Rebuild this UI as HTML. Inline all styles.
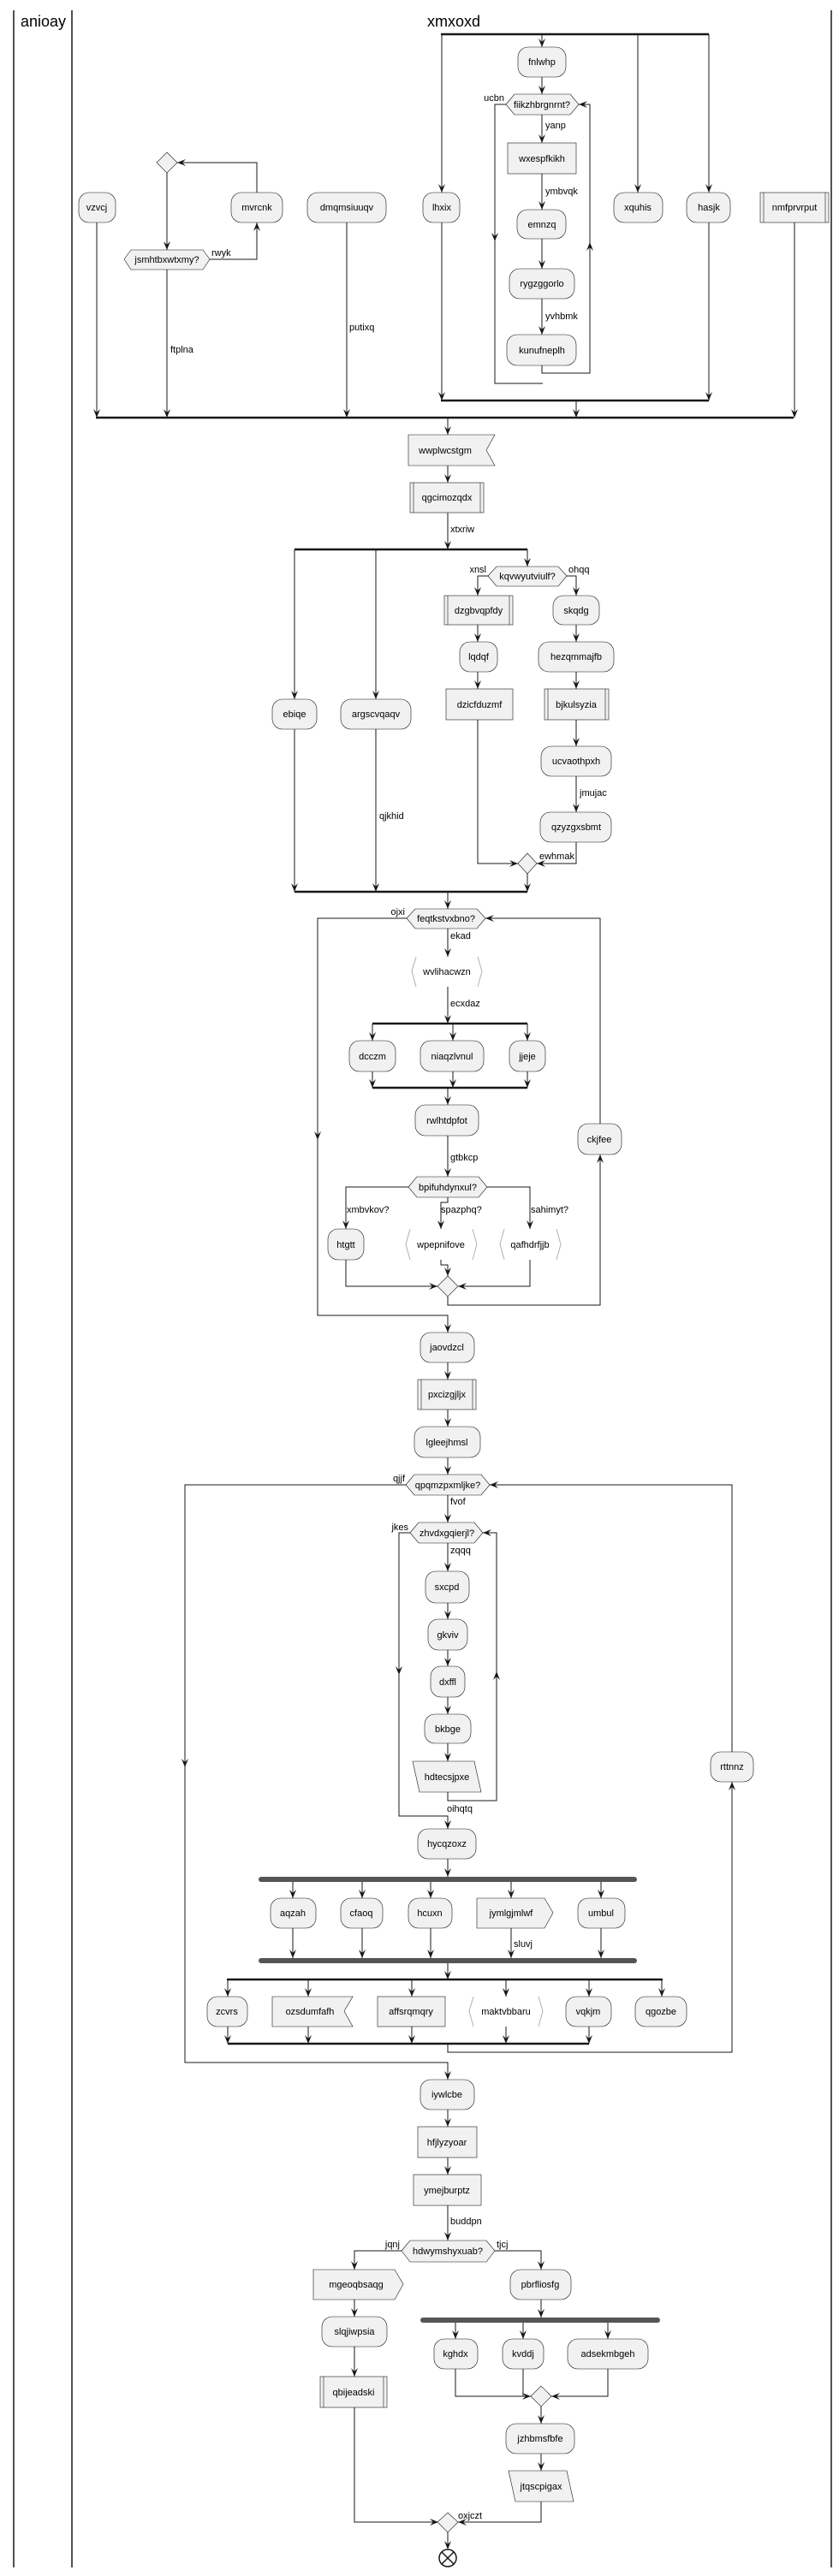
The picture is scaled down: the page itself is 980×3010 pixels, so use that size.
<!DOCTYPE html>
<html><head><meta charset="utf-8"><style>
html,body{margin:0;padding:0;background:#fff;}
svg{display:block;}
text{font-family:"Liberation Sans",sans-serif;font-size:11px;fill:#000;}
.n{text-anchor:middle;}
.e{text-anchor:end;}
.b{fill:#F1F1F1;stroke:#181818;stroke-width:0.6;}
.k{fill:none;stroke:#B0B0B0;stroke-width:1;}
.l{fill:none;stroke:#181818;stroke-width:1;}
.bar{stroke:#181818;stroke-width:2.5;}
</style></head><body>
<svg width="980" height="3010" viewBox="0 0 980 3010" xmlns="http://www.w3.org/2000/svg">
<defs>
<marker id="a" viewBox="0 0 10 10" refX="10" refY="5" markerWidth="10" markerHeight="10" markerUnits="userSpaceOnUse" orient="auto"><path d="M0,1 L10,5 L0,9 L4,5 Z" fill="#181818"/></marker>
</defs>
<!-- lanes -->
<line x1="16" y1="12" x2="16" y2="3000" stroke="#181818" stroke-width="1.5"/>
<line x1="84" y1="12" x2="84" y2="3000" stroke="#181818" stroke-width="1.5"/>
<line x1="971" y1="12" x2="971" y2="3000" stroke="#181818" stroke-width="1.5"/>
<text x="24" y="31" style="font-size:18px">anioay</text>
<text x="530" y="31" class="n" style="font-size:18px">xmxoxd</text>

<!-- top fork -->
<line x1="515" y1="40" x2="828" y2="40" class="bar"/>
<path class="l" d="M633,40 V55" marker-end="url(#a)"/>
<path class="l" d="M516,40 V225" marker-end="url(#a)"/>
<path class="l" d="M745,40 V225" marker-end="url(#a)"/>
<path class="l" d="M828,40 V225" marker-end="url(#a)"/>
<rect class="b" x="605" y="55" width="56" height="35" rx="12"/><text x="633" y="76" class="n">fnlwhp</text>
<path class="l" d="M633,90 V110" marker-end="url(#a)"/>
<polygon class="b" points="591,122 601,110 666,110 676,122 666,134 601,134"/><text x="633" y="126" class="n">fiikzhbrgnrnt?</text>
<text x="589" y="118" class="e">ucbn</text>
<path class="l" d="M633,134 V167" marker-end="url(#a)"/><text x="637" y="150">yanp</text>
<rect class="b" x="593" y="167" width="80" height="36"/><text x="633" y="189" class="n">wxespfkikh</text>
<path class="l" d="M633,203 V245" marker-end="url(#a)"/><text x="637" y="227">ymbvqk</text>
<rect class="b" x="604" y="245" width="57" height="34" rx="12"/><text x="633" y="266" class="n">emnzq</text>
<path class="l" d="M633,279 V314" marker-end="url(#a)"/>
<rect class="b" x="595" y="314" width="76" height="35" rx="12"/><text x="633" y="335" class="n">rygzggorlo</text>
<path class="l" d="M633,349 V391" marker-end="url(#a)"/><text x="637" y="373">yvhbmk</text>
<rect class="b" x="592" y="391" width="81" height="36" rx="12"/><text x="633" y="413" class="n">kunufneplh</text>
<path class="l" d="M633,427 V436 H689 V122 H676" marker-end="url(#a)"/>
<path class="l" d="M689,295 V283" marker-end="url(#a)"/>
<path class="l" d="M591,122 H578 V448 H634"/>
<path class="l" d="M578,270 V282" marker-end="url(#a)"/>

<!-- left parts -->
<polygon class="b" points="195,178 207,190 195,202 183,190"/>
<path class="l" d="M300,225 V190 H207" marker-end="url(#a)"/>
<path class="l" d="M195,202 V292" marker-end="url(#a)"/>
<polygon class="b" points="145,303 153,292 237,292 245,303 237,315 153,315"/><text x="195" y="307" class="n">jsmhtbxwtxmy?</text>
<text x="247" y="299">rwyk</text>
<path class="l" d="M245,303 H300 V260" marker-end="url(#a)"/>

<rect class="b" x="92" y="225" width="43" height="35" rx="12"/><text x="113" y="246" class="n">vzvcj</text>
<rect class="b" x="270" y="225" width="60" height="35" rx="12"/><text x="300" y="246" class="n">mvrcnk</text>
<rect class="b" x="359" y="225" width="92" height="35" rx="12"/><text x="405" y="246" class="n">dmqmsiuuqv</text>
<rect class="b" x="494" y="225" width="43" height="35" rx="12"/><text x="516" y="246" class="n">lhxix</text>
<rect class="b" x="717" y="225" width="57" height="35" rx="12"/><text x="745" y="246" class="n">xquhis</text>
<rect class="b" x="802" y="225" width="51" height="35" rx="12"/><text x="828" y="246" class="n">hasjk</text>
<rect class="b" x="888" y="225" width="80" height="35"/><line x1="892" y1="225" x2="892" y2="260" stroke="#181818" stroke-width="0.6"/><line x1="964" y1="225" x2="964" y2="260" stroke="#181818" stroke-width="0.6"/><text x="928" y="246" class="n">nmfprvrput</text>

<line x1="515" y1="468" x2="828" y2="468" class="bar"/>
<path class="l" d="M516,260 V468" marker-end="url(#a)"/>
<path class="l" d="M828,260 V468" marker-end="url(#a)"/>
<path class="l" d="M673,468 V488" marker-end="url(#a)"/>
<line x1="112" y1="488" x2="927" y2="488" class="bar"/>
<path class="l" d="M113,260 V488" marker-end="url(#a)"/>
<path class="l" d="M195,315 V488" marker-end="url(#a)"/><text x="199" y="412">ftplna</text>
<path class="l" d="M405,260 V488" marker-end="url(#a)"/><text x="408" y="386">putixq</text>
<path class="l" d="M928,260 V488" marker-end="url(#a)"/>
<path class="l" d="M523,488 V508" marker-end="url(#a)"/>

<!-- section 2 -->
<polygon class="b" points="477,508 578,508 568,526 578,544 477,544"/><text x="520" y="530" class="n">wwplwcstgm</text>
<path class="l" d="M523,544 V564" marker-end="url(#a)"/>
<rect class="b" x="479" y="564" width="86" height="35"/><line x1="483" y1="564" x2="483" y2="599" stroke="#181818" stroke-width="0.6"/><line x1="561" y1="564" x2="561" y2="599" stroke="#181818" stroke-width="0.6"/><text x="522" y="585" class="n">qgcimozqdx</text>
<path class="l" d="M523,599 V642" marker-end="url(#a)"/><text x="526" y="622">xtxriw</text>
<line x1="344" y1="642" x2="616" y2="642" class="bar"/>
<path class="l" d="M344,642 V817" marker-end="url(#a)"/>
<path class="l" d="M439,642 V817" marker-end="url(#a)"/>
<path class="l" d="M616,642 V662" marker-end="url(#a)"/>
<polygon class="b" points="570,673 580,662 652,662 662,673 652,685 580,685"/><text x="616" y="677" class="n">kqvwyutviulf?</text>
<text x="568" y="669" class="e">xnsl</text><text x="664" y="669">ohqq</text>
<path class="l" d="M570,673 H558 V696" marker-end="url(#a)"/>
<path class="l" d="M662,673 H673 V696" marker-end="url(#a)"/>
<rect class="b" x="519" y="696" width="80" height="34"/><line x1="523" y1="696" x2="523" y2="730" stroke="#181818" stroke-width="0.6"/><line x1="595" y1="696" x2="595" y2="730" stroke="#181818" stroke-width="0.6"/><text x="559" y="717" class="n">dzgbvqpfdy</text>
<path class="l" d="M558,730 V750" marker-end="url(#a)"/>
<rect class="b" x="537" y="750" width="44" height="35" rx="12"/><text x="559" y="771" class="n">lqdqf</text>
<path class="l" d="M558,785 V805" marker-end="url(#a)"/>
<rect class="b" x="521" y="805" width="78" height="36"/><text x="560" y="827" class="n">dzicfduzmf</text>
<rect class="b" x="646" y="696" width="54" height="34" rx="12"/><text x="673" y="717" class="n">skqdg</text>
<path class="l" d="M673,730 V750" marker-end="url(#a)"/>
<rect class="b" x="629" y="750" width="88" height="35" rx="12"/><text x="673" y="771" class="n">hezqmmajfb</text>
<path class="l" d="M673,785 V805" marker-end="url(#a)"/>
<rect class="b" x="636" y="805" width="75" height="36"/><line x1="640" y1="805" x2="640" y2="841" stroke="#181818" stroke-width="0.6"/><line x1="707" y1="805" x2="707" y2="841" stroke="#181818" stroke-width="0.6"/><text x="673" y="827" class="n">bjkulsyzia</text>
<path class="l" d="M673,841 V872" marker-end="url(#a)"/>
<rect class="b" x="632" y="872" width="82" height="35" rx="12"/><text x="673" y="893" class="n">ucvaothpxh</text>
<path class="l" d="M673,907 V949" marker-end="url(#a)"/><text x="677" y="930">jmujac</text>
<rect class="b" x="631" y="949" width="83" height="35" rx="12"/><text x="673" y="970" class="n">qzyzgxsbmt</text>
<rect class="b" x="318" y="817" width="52" height="35" rx="12"/><text x="344" y="838" class="n">ebiqe</text>
<rect class="b" x="398" y="817" width="82" height="35" rx="12"/><text x="439" y="838" class="n">argscvqaqv</text>
<text x="443" y="957">qjkhid</text>
<polygon class="b" points="616,997 627,1009 616,1021 605,1009"/>
<path class="l" d="M558,841 V1009 H605" marker-end="url(#a)"/>
<path class="l" d="M673,984 V1009 H627" marker-end="url(#a)"/><text x="630" y="1004">ewhmak</text>
<path class="l" d="M616,1021 V1042" marker-end="url(#a)"/>
<path class="l" d="M344,852 V1042" marker-end="url(#a)"/>
<path class="l" d="M439,852 V1042" marker-end="url(#a)"/>
<line x1="344" y1="1042" x2="616" y2="1042" class="bar"/>
<path class="l" d="M523,1042 V1062" marker-end="url(#a)"/>

<!-- loop feqtk -->
<polygon class="b" points="475,1073 485,1062 557,1062 567,1073 557,1085 485,1085"/><text x="521" y="1077" class="n">feqtkstvxbno?</text>
<text x="473" y="1069" class="e">ojxi</text>
<path class="l" d="M523,1085 V1118" marker-end="url(#a)"/><text x="526" y="1097">ekad</text>
<path class="k" d="M486,1118 L481,1135 L486,1153 M558,1118 L563,1135 L558,1153"/><text x="522" y="1139" class="n">wvlihacwzn</text>
<path class="l" d="M523,1153 V1196" marker-end="url(#a)"/><text x="526" y="1176">ecxdaz</text>
<line x1="435" y1="1196" x2="616" y2="1196" class="bar"/>
<path class="l" d="M435,1196 V1216" marker-end="url(#a)"/>
<path class="l" d="M529,1196 V1216" marker-end="url(#a)"/>
<path class="l" d="M616,1196 V1216" marker-end="url(#a)"/>
<rect class="b" x="408" y="1216" width="54" height="36" rx="12"/><text x="435" y="1238" class="n">dcczm</text>
<rect class="b" x="491" y="1216" width="74" height="36" rx="12"/><text x="528" y="1238" class="n">niaqzlvnul</text>
<rect class="b" x="595" y="1216" width="42" height="36" rx="12"/><text x="616" y="1238" class="n">jjeje</text>
<path class="l" d="M435,1252 V1271" marker-end="url(#a)"/>
<path class="l" d="M529,1252 V1271" marker-end="url(#a)"/>
<path class="l" d="M616,1252 V1271" marker-end="url(#a)"/>
<line x1="435" y1="1271" x2="616" y2="1271" class="bar"/>
<path class="l" d="M523,1271 V1291" marker-end="url(#a)"/>
<rect class="b" x="485" y="1291" width="74" height="36" rx="12"/><text x="522" y="1313" class="n">rwlhtdpfot</text>
<path class="l" d="M523,1327 V1375" marker-end="url(#a)"/><text x="526" y="1356">gtbkcp</text>
<polygon class="b" points="477,1387 487,1375 559,1375 569,1387 559,1399 487,1399"/><text x="523" y="1391" class="n">bpifuhdynxul?</text>
<path class="l" d="M477,1387 H404 V1436" marker-end="url(#a)"/><text x="405" y="1417">xmbvkov?</text>
<path class="l" d="M523,1399 V1405 H515 V1436" marker-end="url(#a)"/><text x="515" y="1417">spazphq?</text>
<path class="l" d="M569,1387 H619 V1436" marker-end="url(#a)"/><text x="620" y="1417">sahimyt?</text>
<rect class="b" x="383" y="1436" width="42" height="36" rx="12"/><text x="404" y="1458" class="n">htgtt</text>
<path class="k" d="M479,1436 L474,1454 L479,1472 M552,1436 L557,1454 L552,1472"/><text x="515" y="1458" class="n">wpepnifove</text>
<path class="k" d="M589,1436 L584,1454 L589,1472 M650,1436 L655,1454 L650,1472"/><text x="619" y="1458" class="n">qafhdrfjjb</text>
<polygon class="b" points="523,1491 535,1503 523,1515 511,1503"/>
<path class="l" d="M404,1472 V1503 H511" marker-end="url(#a)"/>
<path class="l" d="M515,1472 V1478 H523 V1491" marker-end="url(#a)"/>
<path class="l" d="M619,1472 V1503 H535" marker-end="url(#a)"/>
<path class="l" d="M523,1515 V1525 H701 V1349" marker-end="url(#a)"/>
<rect class="b" x="675" y="1313" width="51" height="36" rx="12"/><text x="700" y="1335" class="n">ckjfee</text>
<path class="l" d="M701,1313 V1073 H567" marker-end="url(#a)"/>
<path class="l" d="M475,1073 H371 V1537 H523 V1557" marker-end="url(#a)"/>
<path class="l" d="M371,1320 V1332" marker-end="url(#a)"/>

<rect class="b" x="491" y="1557" width="63" height="35" rx="12"/><text x="522" y="1578" class="n">jaovdzcl</text>
<path class="l" d="M523,1592 V1612" marker-end="url(#a)"/>
<rect class="b" x="488" y="1612" width="68" height="35"/><line x1="492" y1="1612" x2="492" y2="1647" stroke="#181818" stroke-width="0.6"/><line x1="552" y1="1612" x2="552" y2="1647" stroke="#181818" stroke-width="0.6"/><text x="522" y="1633" class="n">pxcizgjljx</text>
<path class="l" d="M523,1647 V1667" marker-end="url(#a)"/>
<rect class="b" x="484" y="1667" width="77" height="36" rx="12"/><text x="522" y="1689" class="n">lgleejhmsl</text>
<path class="l" d="M523,1703 V1723" marker-end="url(#a)"/>

<!-- loop qpqm -->
<polygon class="b" points="474,1735 484,1723 562,1723 572,1735 562,1747 484,1747"/><text x="523" y="1739" class="n">qpqmzpxmljke?</text>
<text x="473" y="1731" class="e">qjjf</text>
<path class="l" d="M523,1747 V1779" marker-end="url(#a)"/><text x="526" y="1758">fvof</text>
<polygon class="b" points="479,1791 489,1779 554,1779 564,1791 554,1803 489,1803"/><text x="522" y="1795" class="n">zhvdxgqierjl?</text>
<text x="477" y="1788" class="e">jkes</text>
<path class="l" d="M523,1803 V1836" marker-end="url(#a)"/><text x="526" y="1815">zqqq</text>
<rect class="b" x="497" y="1836" width="51" height="37" rx="12"/><text x="522" y="1858" class="n">sxcpd</text>
<path class="l" d="M523,1873 V1892" marker-end="url(#a)"/>
<rect class="b" x="500" y="1892" width="46" height="36" rx="12"/><text x="523" y="1914" class="n">gkviv</text>
<path class="l" d="M523,1928 V1947" marker-end="url(#a)"/>
<rect class="b" x="503" y="1947" width="40" height="36" rx="12"/><text x="523" y="1969" class="n">dxffl</text>
<path class="l" d="M523,1983 V2003" marker-end="url(#a)"/>
<rect class="b" x="496" y="2003" width="54" height="34" rx="12"/><text x="523" y="2024" class="n">bkbge</text>
<path class="l" d="M523,2037 V2058" marker-end="url(#a)"/>
<polygon class="b" points="482,2058 554,2058 562,2094 490,2094"/><text x="522" y="2080" class="n">hdtecsjpxe</text>
<path class="l" d="M523,2094 V2104 H580 V1791 H564" marker-end="url(#a)"/>
<path class="l" d="M580,1965 V1953" marker-end="url(#a)"/>
<path class="l" d="M479,1791 H466 V2122 H523 V2137" marker-end="url(#a)"/>
<path class="l" d="M466,1945 V1957" marker-end="url(#a)"/>
<text x="522" y="2117">oihqtq</text>
<rect class="b" x="488" y="2137" width="68" height="35" rx="12"/><text x="522" y="2158" class="n">hycqzoxz</text>
<path class="l" d="M523,2172 V2193" marker-end="url(#a)"/>
<rect x="302" y="2193" width="442" height="6" rx="3" fill="#555"/>
<path class="l" d="M342,2199 V2218" marker-end="url(#a)"/>
<path class="l" d="M423,2199 V2218" marker-end="url(#a)"/>
<path class="l" d="M503,2199 V2218" marker-end="url(#a)"/>
<path class="l" d="M597,2199 V2218" marker-end="url(#a)"/>
<path class="l" d="M702,2199 V2218" marker-end="url(#a)"/>
<rect class="b" x="316" y="2218" width="53" height="35" rx="12"/><text x="342" y="2239" class="n">aqzah</text>
<rect class="b" x="398" y="2218" width="49" height="35" rx="12"/><text x="422" y="2239" class="n">cfaoq</text>
<rect class="b" x="477" y="2218" width="51" height="35" rx="12"/><text x="502" y="2239" class="n">hcuxn</text>
<polygon class="b" points="557,2218 636,2218 646,2235 636,2253 557,2253"/><text x="597" y="2239" class="n">jymlgjmlwf</text>
<rect class="b" x="675" y="2218" width="55" height="35" rx="12"/><text x="702" y="2239" class="n">umbul</text>
<path class="l" d="M342,2253 V2288" marker-end="url(#a)"/>
<path class="l" d="M423,2253 V2288" marker-end="url(#a)"/>
<path class="l" d="M503,2253 V2288" marker-end="url(#a)"/>
<path class="l" d="M597,2253 V2288" marker-end="url(#a)"/><text x="600" y="2275">sluvj</text>
<path class="l" d="M702,2253 V2288" marker-end="url(#a)"/>
<rect x="302" y="2288" width="442" height="6" rx="3" fill="#555"/>
<path class="l" d="M523,2294 V2313" marker-end="url(#a)"/>
<line x1="265" y1="2313" x2="774" y2="2313" class="bar"/>
<path class="l" d="M266,2313 V2333" marker-end="url(#a)"/>
<path class="l" d="M360,2313 V2333" marker-end="url(#a)"/>
<path class="l" d="M481,2313 V2333" marker-end="url(#a)"/>
<path class="l" d="M591,2313 V2333" marker-end="url(#a)"/>
<path class="l" d="M688,2313 V2333" marker-end="url(#a)"/>
<path class="l" d="M773,2313 V2333" marker-end="url(#a)"/>
<rect class="b" x="242" y="2333" width="47" height="35" rx="12"/><text x="265" y="2354" class="n">zcvrs</text>
<polygon class="b" points="318,2333 412,2333 402,2350 412,2368 318,2368"/><text x="362" y="2354" class="n">ozsdumfafh</text>
<rect class="b" x="441" y="2333" width="79" height="35"/><text x="480" y="2354" class="n">affsrqmqry</text>
<path class="k" d="M553,2333 L548,2350 L553,2368 M629,2333 L634,2350 L629,2368"/><text x="591" y="2354" class="n">maktvbbaru</text>
<rect class="b" x="661" y="2333" width="53" height="35" rx="12"/><text x="687" y="2354" class="n">vqkjm</text>
<rect class="b" x="742" y="2333" width="60" height="35" rx="12"/><text x="772" y="2354" class="n">qgozbe</text>
<path class="l" d="M266,2368 V2388" marker-end="url(#a)"/>
<path class="l" d="M360,2368 V2388" marker-end="url(#a)"/>
<path class="l" d="M481,2368 V2388" marker-end="url(#a)"/>
<path class="l" d="M591,2368 V2388" marker-end="url(#a)"/>
<path class="l" d="M688,2368 V2388" marker-end="url(#a)"/>
<line x1="266" y1="2388" x2="688" y2="2388" class="bar"/>
<path class="l" d="M523,2388 V2398 H855 V2082" marker-end="url(#a)"/>
<rect class="b" x="830" y="2047" width="50" height="35" rx="12"/><text x="855" y="2068" class="n">rttnnz</text>
<path class="l" d="M855,2047 V1735 H572" marker-end="url(#a)"/>
<path class="l" d="M474,1735 H216 V2410 H523 V2430" marker-end="url(#a)"/>
<path class="l" d="M216,2053 V2065" marker-end="url(#a)"/>

<rect class="b" x="491" y="2430" width="63" height="35" rx="12"/><text x="522" y="2451" class="n">iywlcbe</text>
<path class="l" d="M523,2465 V2485" marker-end="url(#a)"/>
<rect class="b" x="488" y="2485" width="69" height="36"/><text x="522" y="2507" class="n">hfjlyzyoar</text>
<path class="l" d="M523,2521 V2541" marker-end="url(#a)"/>
<rect class="b" x="483" y="2541" width="79" height="36"/><text x="522" y="2563" class="n">ymejburptz</text>
<path class="l" d="M523,2577 V2618" marker-end="url(#a)"/><text x="526" y="2599">buddpn</text>
<polygon class="b" points="469,2630 479,2618 568,2618 578,2630 568,2643 479,2643"/><text x="523" y="2634" class="n">hdwymshyxuab?</text>
<text x="467" y="2626" class="e">jqnj</text><text x="580" y="2626">tjcj</text>
<path class="l" d="M469,2630 H414 V2652" marker-end="url(#a)"/>
<path class="l" d="M578,2630 H632 V2652" marker-end="url(#a)"/>
<polygon class="b" points="366,2652 461,2652 471,2669 461,2687 366,2687"/><text x="416" y="2673" class="n">mgeoqbsaqg</text>
<path class="l" d="M414,2687 V2707" marker-end="url(#a)"/>
<rect class="b" x="376" y="2707" width="76" height="35" rx="12"/><text x="414" y="2728" class="n">slqjiwpsia</text>
<path class="l" d="M414,2742 V2777" marker-end="url(#a)"/>
<rect class="b" x="374" y="2777" width="78" height="36"/><line x1="378" y1="2777" x2="378" y2="2813" stroke="#181818" stroke-width="0.6"/><line x1="448" y1="2777" x2="448" y2="2813" stroke="#181818" stroke-width="0.6"/><text x="413" y="2799" class="n">qbijeadski</text>
<path class="l" d="M414,2813 V2947 H512" marker-end="url(#a)"/>
<rect class="b" x="596" y="2652" width="71" height="35" rx="12"/><text x="631" y="2673" class="n">pbrfliosfg</text>
<path class="l" d="M632,2687 V2708" marker-end="url(#a)"/>
<rect x="491" y="2708" width="280" height="6" rx="3" fill="#555"/>
<path class="l" d="M532,2714 V2733" marker-end="url(#a)"/>
<path class="l" d="M611,2714 V2733" marker-end="url(#a)"/>
<path class="l" d="M710,2714 V2733" marker-end="url(#a)"/>
<rect class="b" x="507" y="2733" width="51" height="35" rx="12"/><text x="532" y="2754" class="n">kghdx</text>
<rect class="b" x="587" y="2733" width="48" height="35" rx="12"/><text x="611" y="2754" class="n">kvddj</text>
<rect class="b" x="663" y="2733" width="94" height="35" rx="12"/><text x="710" y="2754" class="n">adsekmbgeh</text>
<polygon class="b" points="632,2788 644,2800 632,2812 620,2800"/>
<path class="l" d="M532,2768 V2800 H620" marker-end="url(#a)"/>
<path class="l" d="M611,2768 V2800"/>
<path class="l" d="M710,2768 V2800 H644" marker-end="url(#a)"/>
<path class="l" d="M632,2812 V2832" marker-end="url(#a)"/>
<rect class="b" x="591" y="2832" width="80" height="35" rx="12"/><text x="631" y="2853" class="n">jzhbmsfbfe</text>
<path class="l" d="M632,2867 V2887" marker-end="url(#a)"/>
<polygon class="b" points="594,2887 662,2887 670,2923 602,2923"/><text x="632" y="2909" class="n">jtqscpigax</text>
<path class="l" d="M632,2923 V2947 H535" marker-end="url(#a)"/><text x="535" y="2943">oxjczt</text>
<polygon class="b" points="523,2936 535,2947 523,2959 511,2947"/>
<path class="l" d="M523,2959 V2979" marker-end="url(#a)"/>
<circle cx="523" cy="2989" r="10" fill="#fff" stroke="#181818" stroke-width="1.5"/>
<path d="M516,2982 L530,2996 M530,2982 L516,2996" stroke="#181818" stroke-width="1.5"/>
</svg>
</body></html>
